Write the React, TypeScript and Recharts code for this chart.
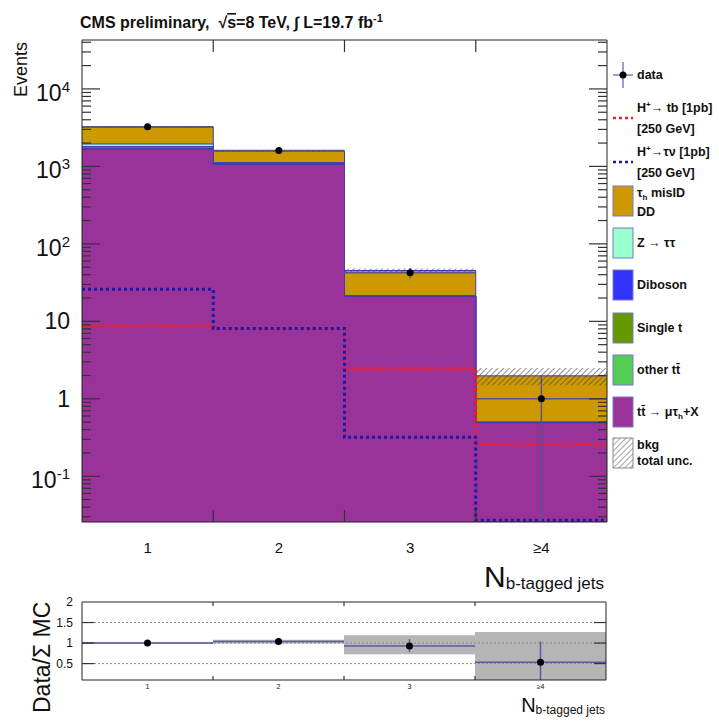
import React from "react";
import {
  ComposedChart,
  Area,
  Line,
  Scatter,
  XAxis,
  YAxis,
  ErrorBar,
  ReferenceLine,
} from "recharts";

const FONT = '"Liberation Sans", Arial, Helvetica, sans-serif';
const INK = "#222";

// binning
const binEdges = [0.5, 1.5, 2.5, 3.5, 4.5];
const binCenters = [1, 2, 3, 4];
const binLabels = ["1", "2", "3", "≥4"];
const edgeTicks = [1.5, 2.5, 3.5];

// background stack, bottom -> top
const ttMuTau = [1660, 1060, 20.8, 0.49];
const otherTT = [40, 15, 0.15, 0.004];
const singleT = [90, 25, 0.2, 0.003];
const diboson = [15, 4, 0.05, 0.001];
const zTauTau = [140, 12, 0.1, 0.002];
const misID = [1275, 460, 24, 1.48];

// total bkg uncertainty band
const uncLow = [3120, 1530, 42, 1.5];
const uncHigh = [3320, 1620, 48, 2.5];

// signals
const hTb = [8.7, 8.0, 2.44, 0.26];
const hTauNu = [26, 8.1, 0.32, 0.027];

// data
const dataCounts = [3250, 1600, 42.5, 1.0];
const dataErrLow = [57, 40, 6.5, 0.974];
const dataErrHigh = [57, 40, 6.5, 1.0];

// ratio panel
const ratioVals = [1.0, 1.04, 0.93, 0.53];
const ratioErrLow = [0.02, 0.03, 0.15, 0.43];
const ratioErrHigh = [0.02, 0.03, 0.17, 0.51];
const ratioBandLow = [0.98, 0.99, 0.73, 0.07];
const ratioBandHigh = [1.02, 1.08, 1.19, 1.27];

// axis ticks
const YMIN = 0.0257;
const YMAX = 42800;
const RMIN = 0.1;
const RMAX = 2;
const majorTicks = [0.1, 1, 10, 100, 1000, 10000];
const minorMult = [2, 3, 4, 5, 6, 7, 8, 9];
const minorDecades = [0.01, 0.1, 1, 10, 100, 1000, 10000];
const minorTicks = minorDecades
  .flatMap((d) => minorMult.map((m) => +(m * d).toPrecision(3)))
  .filter((v) => v > YMIN && v < YMAX);
const allLogTicks = [...majorTicks, ...minorTicks];
const ratioTicks = [0.5, 1, 1.5, 2];
const ratioGrid = [0.5, 1, 1.5];

// frame geometry (page pixels) — same as the chart margins below
const MAIN = { left: 82, right: 607, top: 40, bottom: 522 };
const RATIO = { left: 82, right: 606, top: 602, bottom: 680 };
const mainX = (x: number) => MAIN.left + ((x - 0.5) / 4) * (MAIN.right - MAIN.left);
const mainY = (v: number) =>
  MAIN.bottom - (Math.log10(v / YMIN) / Math.log10(YMAX / YMIN)) * (MAIN.bottom - MAIN.top);
const ratioX = (x: number) => RATIO.left + ((x - 0.5) / 4) * (RATIO.right - RATIO.left);
const ratioY = (v: number) => RATIO.bottom - ((v - RMIN) / (RMAX - RMIN)) * (RATIO.bottom - RATIO.top);

const stackLayers = [
  { key: "ttMuTau", values: ttMuTau, color: "#993399" },
  { key: "otherTT", values: otherTT, color: "#55cc55" },
  { key: "singleT", values: singleT, color: "#669900" },
  { key: "diboson", values: diboson, color: "#3333ff" },
  { key: "zTauTau", values: zTauTau, color: "#99ffcc" },
  { key: "misID", values: misID, color: "#cc9900" },
];

const mainRows = binEdges.map((x, i) => {
  const b = Math.min(i, 3);
  const row: any = { x, unc: [uncLow[b], uncHigh[b]], hTb: hTb[b], hTauNu: hTauNu[b] };
  let sum = 0;
  stackLayers.forEach((l) => {
    sum += l.values[b];
    row[l.key] = sum;
  });
  return row;
});

const dataRows = binCenters.map((x, i) => ({
  x,
  y: dataCounts[i],
  ey: [dataErrLow[i], dataErrHigh[i]],
  ex: 0.5,
}));

const ratioRows = binEdges.map((x, i) => {
  const b = Math.min(i, 3);
  return { x, band: [ratioBandLow[b], ratioBandHigh[b]] };
});

const ratioPoints = binCenters.map((x, i) => ({
  x,
  y: ratioVals[i],
  ey: [ratioErrLow[i], ratioErrHigh[i]],
  ex: 0.5,
}));

const LogTick = (props: any) => {
  const x = Number(props.x);
  const y = Number(props.y);
  const e = Math.round(Math.log10(Number(props.payload.value)));
  const common = { textAnchor: "end" as const, fontSize: 23, fill: "#111", fontFamily: FONT };
  if (e === 0 || e === 1) {
    return (
      <text x={x} y={y + 8} {...common}>
        {e === 0 ? "1" : "10"}
      </text>
    );
  }
  return (
    <text x={x} y={y + 12} {...common}>
      10
      <tspan dy={-9} fontSize={15}>
        {e}
      </tspan>
    </text>
  );
};

const dot = (p: any) => <circle cx={p.cx} cy={p.cy} r={3.5} fill="#000" />;

const frame = { stroke: INK };

function MainPanel() {
  return (
    <ComposedChart
      width={719}
      height={560}
      data={mainRows}
      margin={{ top: 30, right: 102, bottom: 8, left: 0 }}
    >
      <defs>
        <pattern id="hatch" patternUnits="userSpaceOnUse" width="4" height="4" patternTransform="rotate(45)">
          <line x1="0" y1="0" x2="0" y2="4" stroke="#444" strokeWidth="1.2" />
        </pattern>
      </defs>
      {[...stackLayers].reverse().map((l) => (
        <Area
          key={l.key}
          dataKey={l.key}
          type="stepAfter"
          fill={l.color}
          fillOpacity={1}
          stroke="#3c3cb4"
          strokeWidth={1}
          isAnimationActive={false}
        />
      ))}
      <Area dataKey="unc" type="stepAfter" fill="url(#hatch)" fillOpacity={1} stroke="none" isAnimationActive={false} />
      <Line
        dataKey="hTb"
        xAxisId="top"
        yAxisId="right"
        type="stepAfter"
        stroke="#ff1a1a"
        strokeWidth={3}
        strokeDasharray="3 3"
        dot={false}
        isAnimationActive={false}
      />
      <Line dataKey="hTauNu" type="stepAfter" stroke="#1a1aa6" strokeWidth={3} strokeDasharray="3 3" dot={false} isAnimationActive={false} />
      <Scatter data={dataRows} dataKey="y" shape={dot} isAnimationActive={false}>
        <ErrorBar dataKey="ey" direction="y" width={0} stroke="#55558f" strokeWidth={1.5} />
        <ErrorBar dataKey="ex" direction="x" width={0} stroke="#55558f" strokeWidth={1.5} />
      </Scatter>

      <XAxis
        type="number"
        dataKey="x"
        domain={[0.5, 4.5]}
        allowDataOverflow
        ticks={binCenters}
        interval={0}
        tickFormatter={(v: number) => binLabels[v - 1]}
        tickLine={false}
        tickSize={0}
        tickMargin={20}
        height={30}
        axisLine={frame}
        tick={{ fontSize: 15, fill: "#111", fontFamily: FONT }}
      />
      <XAxis
        xAxisId="top"
        orientation="top"
        type="number"
        dataKey="x"
        domain={[0.5, 4.5]}
        allowDataOverflow
        tick={false}
        tickLine={false}
        height={10}
        axisLine={frame}
      />
      <YAxis
        scale="log"
        domain={[YMIN, YMAX]}
        allowDataOverflow
        ticks={majorTicks}
        interval={0}
        tick={LogTick}
        tickLine={false}
        tickSize={0}
        tickMargin={12}
        width={82}
        axisLine={frame}
      />
      <YAxis
        yAxisId="right"
        orientation="right"
        scale="log"
        domain={[YMIN, YMAX]}
        allowDataOverflow
        tick={false}
        tickLine={false}
        width={10}
        axisLine={frame}
      />
    </ComposedChart>
  );
}

function RatioPanel() {
  return (
    <ComposedChart
      width={719}
      height={163}
      data={ratioRows}
      margin={{ top: 32, right: 103, bottom: 23, left: 0 }}
    >
      <Area
        dataKey="band"
        xAxisId="top"
        yAxisId="right"
        type="stepAfter"
        fill="#b5b5b5"
        fillOpacity={1}
        stroke="none"
        isAnimationActive={false}
      />
      {ratioGrid.map((v) => (
        <ReferenceLine key={v} y={v} stroke="#8a8a8a" strokeDasharray="2 2" strokeWidth={1} />
      ))}
      <Scatter data={ratioPoints} dataKey="y" shape={dot} isAnimationActive={false}>
        <ErrorBar dataKey="ey" direction="y" width={0} stroke="#5a5aa5" strokeWidth={1.5} />
        <ErrorBar dataKey="ex" direction="x" width={0} stroke="#5a5aa5" strokeWidth={1.5} />
      </Scatter>

      <XAxis
        type="number"
        dataKey="x"
        domain={[0.5, 4.5]}
        allowDataOverflow
        ticks={binCenters}
        interval={0}
        tickFormatter={(v: number) => binLabels[v - 1]}
        tickLine={false}
        tickSize={0}
        tickMargin={4}
        height={20}
        axisLine={frame}
        tick={{ fontSize: 7, fill: "#111", fontFamily: FONT }}
      />
      <XAxis
        xAxisId="top"
        orientation="top"
        type="number"
        dataKey="x"
        domain={[0.5, 4.5]}
        allowDataOverflow
        tick={false}
        tickLine={false}
        height={10}
        axisLine={frame}
      />
      <YAxis
        domain={[RMIN, RMAX]}
        allowDataOverflow
        ticks={ratioTicks}
        interval={0}
        tickFormatter={(v: number) => String(v)}
        tickLine={false}
        tickSize={0}
        tickMargin={9}
        width={82}
        axisLine={frame}
        tick={{ fontSize: 12, fill: "#111", fontFamily: FONT }}
      />
      <YAxis
        yAxisId="right"
        orientation="right"
        domain={[RMIN, RMAX]}
        allowDataOverflow
        tick={false}
        tickLine={false}
        width={10}
        axisLine={frame}
      />
    </ComposedChart>
  );
}

// inward ROOT-style tick marks on all four sides of both frames
function TickMarks() {
  const s = { stroke: "#333", strokeWidth: 1.2 };
  return (
    <g>
      {allLogTicks.map((v) => {
        const len = majorTicks.includes(v) ? 18 : 9;
        const y = mainY(v);
        return (
          <g key={`m${v}`}>
            <line x1={MAIN.left} x2={MAIN.left + len} y1={y} y2={y} {...s} />
            <line x1={MAIN.right} x2={MAIN.right - len} y1={y} y2={y} {...s} />
          </g>
        );
      })}
      {edgeTicks.map((x) => (
        <g key={`e${x}`}>
          <line x1={mainX(x)} x2={mainX(x)} y1={MAIN.top} y2={MAIN.top + 12} {...s} />
          <line x1={mainX(x)} x2={mainX(x)} y1={MAIN.bottom} y2={MAIN.bottom - 12} {...s} />
          <line x1={ratioX(x)} x2={ratioX(x)} y1={RATIO.top} y2={RATIO.top + 4} {...s} />
          <line x1={ratioX(x)} x2={ratioX(x)} y1={RATIO.bottom} y2={RATIO.bottom - 4} {...s} />
        </g>
      ))}
      {ratioGrid.map((v) => (
        <g key={`r${v}`}>
          <line x1={RATIO.left} x2={RATIO.left + 12} y1={ratioY(v)} y2={ratioY(v)} {...s} />
          <line x1={RATIO.right} x2={RATIO.right - 12} y1={ratioY(v)} y2={ratioY(v)} {...s} />
        </g>
      ))}
    </g>
  );
}

const legendBoxes = [
  { y: 201, fill: "#cc9900", lines: ["misID", "DD"], tau: true },
  { y: 243, fill: "#99ffcc", lines: ["Z → ττ"] },
  { y: 285, fill: "#3333ff", lines: ["Diboson"] },
  { y: 328, fill: "#669900", lines: ["Single t"] },
  { y: 370, fill: "#55cc55", lines: ["other tt\u0304"] },
  { y: 412, fill: "#993399", lines: ["ttmu"] },
  { y: 453, fill: "url(#hatchL)", lines: ["bkg", "total unc."], hatch: true },
];

function Overlay() {
  const txt = { fontFamily: FONT, fontWeight: "bold" as const, fontSize: 12.5, fill: "#111" };
  return (
    <svg width={719} height={723} style={{ position: "absolute", left: 0, top: 0, pointerEvents: "none" }}>
      <defs>
        <pattern id="hatchL" patternUnits="userSpaceOnUse" width="4" height="4" patternTransform="rotate(45)">
          <line x1="0" y1="0" x2="0" y2="4" stroke="#666" strokeWidth="1.2" />
        </pattern>
      </defs>
      <TickMarks />
      <text x={80} y={28} fontFamily={FONT} fontWeight="bold" fontSize={16} fill="#111" style={{ whiteSpace: "pre" }}>
        {"CMS preliminary,  √"}
        <tspan style={{ textDecoration: "overline" }}>s</tspan>
        {"=8 TeV, ∫ L=19.7 fb"}
        <tspan dy={-6} fontSize={11}>-1</tspan>
      </text>
      <text transform="translate(27,97) rotate(-90)" fontFamily={FONT} fontSize={18} fill="#111">
        Events
      </text>
      <text x={604} y={587} textAnchor="end" fontFamily={FONT} fill="#111">
        <tspan fontSize={30}>N</tspan>
        <tspan fontSize={17} dy={2}>b-tagged jets</tspan>
      </text>
      <text transform="translate(50,713) rotate(-90)" fontFamily={FONT} fontSize={23} fill="#111">
        Data/Σ MC
      </text>
      <text x={605} y={712} textAnchor="end" fontFamily={FONT} fill="#111">
        <tspan fontSize={20}>N</tspan>
        <tspan fontSize={12} dy={2}>b-tagged jets</tspan>
      </text>

      {/* legend */}
      <line x1={613} x2={633} y1={75} y2={75} stroke="#7b7bc8" strokeWidth={1.5} />
      <line x1={623} x2={623} y1={62} y2={88} stroke="#7b7bc8" strokeWidth={1.5} />
      <circle cx={623} cy={75} r={3.5} fill="#000" />
      <text x={637} y={79} {...txt}>data</text>

      <line x1={613} x2={633} y1={118} y2={118} stroke="#ff1a1a" strokeWidth={2.5} strokeDasharray="3 3" />
      <text x={637} y={112} {...txt}>
        H<tspan dy={-5} fontSize={8}>+</tspan>
        <tspan dy={5}>→ tb [1pb]</tspan>
      </text>
      <text x={637} y={133} {...txt}>[250 GeV]</text>

      <line x1={613} x2={633} y1={162} y2={162} stroke="#1a1aa6" strokeWidth={2.5} strokeDasharray="3 3" />
      <text x={637} y={156} {...txt}>
        H<tspan dy={-5} fontSize={8}>+</tspan>
        <tspan dy={5}>→τν [1pb]</tspan>
      </text>
      <text x={637} y={177} {...txt}>[250 GeV]</text>

      {legendBoxes.map((b, i) => (
        <g key={i}>
          <rect x={613} y={b.y - 15} width={20} height={30} fill={b.fill} stroke={b.hatch ? "#888" : "#7878c8"} strokeWidth={1} />
          {b.tau ? (
            <>
              <text x={637} y={b.y - 4} {...txt}>
                τ<tspan dy={3} fontSize={8}>h</tspan>
                <tspan dy={-3}> misID</tspan>
              </text>
              <text x={637} y={b.y + 15} {...txt}>DD</text>
            </>
          ) : b.lines[0] === "ttmu" ? (
            <text x={637} y={b.y + 4} {...txt}>
              tt{"\u0304"}
              <tspan> → μτ</tspan>
              <tspan dy={3} fontSize={8}>h</tspan>
              <tspan dy={-3}>+X</tspan>
            </text>
          ) : b.lines.length === 2 ? (
            <>
              <text x={637} y={b.y - 4} {...txt}>{b.lines[0]}</text>
              <text x={637} y={b.y + 12} {...txt}>{b.lines[1]}</text>
            </>
          ) : (
            <text x={637} y={b.y + 4} {...txt}>{b.lines[0]}</text>
          )}
        </g>
      ))}
    </svg>
  );
}

export default function App() {
  return (
    <div style={{ position: "absolute", left: 0, top: 0, width: 719, height: 723, background: "#fff", fontFamily: FONT }}>
      <div style={{ position: "absolute", left: 0, top: 0 }}>
        <MainPanel />
      </div>
      <div style={{ position: "absolute", left: 0, top: 560 }}>
        <RatioPanel />
      </div>
      <Overlay />
    </div>
  );
}
